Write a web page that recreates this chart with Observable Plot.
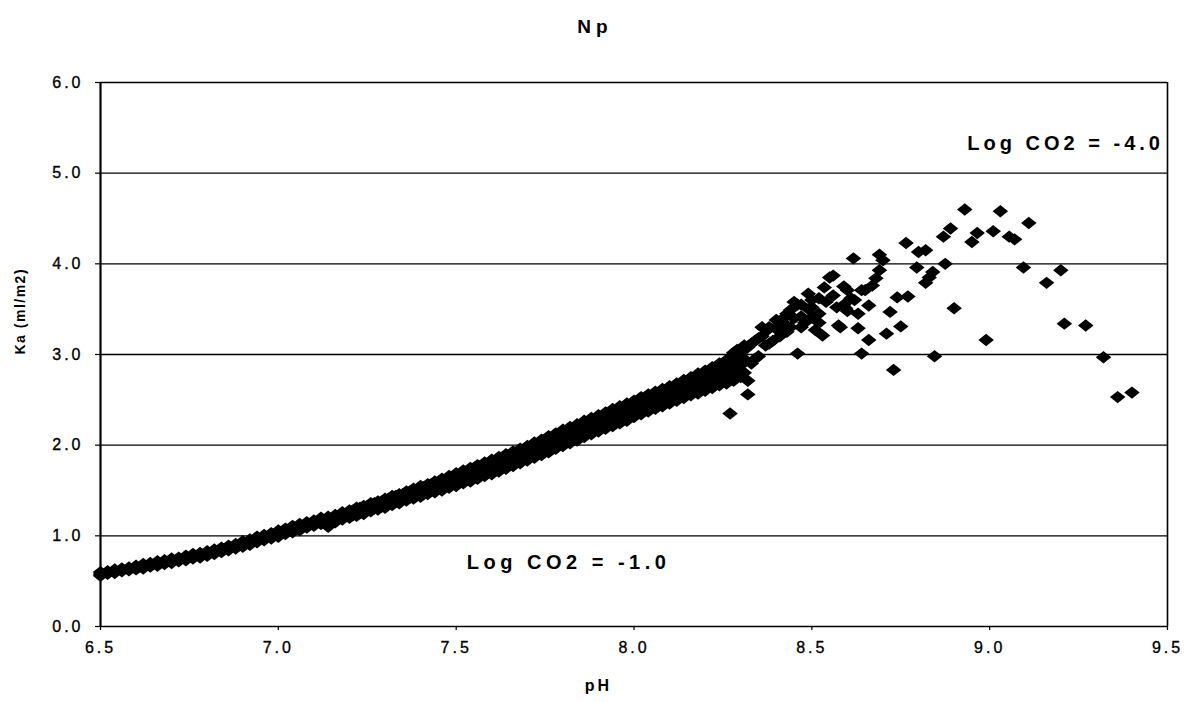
<!DOCTYPE html>
<html>
<head>
<meta charset="utf-8">
<script src="https://cdn.jsdelivr.net/npm/d3@7"></script>
<script src="https://cdn.jsdelivr.net/npm/@observablehq/plot@0.6"></script>
<style>
  html, body { margin: 0; padding: 0; background: #fff; }
  #chart svg { display: block; }
</style>
</head>
<body>
<div id="chart"></div>
<script>
// ---- data ----
const bandPH = [6.50,6.52,6.54,6.56,6.58,6.60,6.62,6.64,6.66,6.68,6.70,6.72,6.74,6.76,6.78,6.80,6.82,6.84,6.86,6.88,
  6.90,6.92,6.94,6.96,6.98,7.00,7.02,7.04,7.06,7.08,7.10,7.12,7.14,7.16,7.18,7.20,7.22,7.24,7.26,7.28,
  7.30,7.32,7.34,7.36,7.38,7.40,7.42,7.44,7.46,7.48,7.50,7.52,7.54,7.56,7.58,7.60,7.62,7.64,7.66,7.68,
  7.70,7.72,7.74,7.76,7.78,7.80,7.82,7.84,7.86,7.88,7.90,7.92,7.94,7.96,7.98,8.00,8.02,8.04,8.06,8.08,
  8.10,8.12,8.14,8.16,8.18,8.20,8.22,8.24,8.26,8.28,8.30];
const bandMid = [0.58,0.60,0.61,0.62,0.64,0.65,0.66,0.68,0.69,0.71,0.72,0.74,0.76,0.77,0.79,0.81,0.83,0.85,0.87,0.89,
  0.92,0.94,0.96,0.98,1.01,1.03,1.06,1.08,1.10,1.12,1.15,1.17,1.18,1.20,1.22,1.24,1.27,1.29,1.32,1.34,
  1.37,1.39,1.42,1.44,1.47,1.49,1.52,1.54,1.57,1.60,1.62,1.65,1.68,1.71,1.73,1.76,1.79,1.82,1.85,1.88,
  1.91,1.94,1.98,2.01,2.05,2.08,2.11,2.14,2.18,2.21,2.24,2.27,2.30,2.33,2.37,2.40,2.43,2.46,2.49,2.53,
  2.56,2.59,2.62,2.65,2.68,2.71,2.74,2.78,2.81,2.85,2.88];
const bandLow = [0.56,0.58,0.59,0.61,0.62,0.63,0.64,0.66,0.67,0.69,0.70,0.72,0.73,0.75,0.76,0.78,0.80,0.82,0.84,0.86,
  0.88,0.90,0.93,0.95,0.97,0.99,1.02,1.04,1.06,1.09,1.11,1.13,1.10,1.15,1.18,1.20,1.22,1.24,1.27,1.29,
  1.31,1.34,1.36,1.39,1.41,1.43,1.46,1.48,1.50,1.53,1.55,1.58,1.60,1.63,1.66,1.68,1.71,1.74,1.77,1.80,
  1.83,1.86,1.89,1.92,1.96,1.99,2.02,2.05,2.09,2.12,2.15,2.18,2.21,2.24,2.27,2.31,2.34,2.37,2.40,2.43,
  2.46,2.49,2.52,2.55,2.57,2.60,2.63,2.66,2.68,2.71,2.75];
const bandHigh = [0.60,0.61,0.63,0.64,0.65,0.67,0.69,0.70,0.72,0.73,0.75,0.76,0.78,0.80,0.81,0.83,0.85,0.87,0.89,0.91,
  0.94,0.96,0.99,1.01,1.03,1.06,1.08,1.11,1.13,1.15,1.17,1.20,1.21,1.23,1.26,1.28,1.31,1.33,1.36,1.38,
  1.41,1.44,1.46,1.49,1.52,1.55,1.57,1.60,1.63,1.66,1.69,1.72,1.75,1.78,1.81,1.84,1.87,1.90,1.93,1.96,
  1.99,2.03,2.06,2.10,2.13,2.17,2.20,2.23,2.27,2.30,2.33,2.36,2.40,2.43,2.46,2.49,2.53,2.56,2.59,2.62,
  2.65,2.68,2.72,2.75,2.79,2.82,2.86,2.90,2.94,2.98,3.02];
// in-between rows of the thick part of the band
const band2PH = [7.21,7.23,7.25,7.27,7.29,7.31,7.33,7.35,7.37,7.39,7.41,7.43,7.45,7.47,7.49,7.51,7.53,7.55,7.57,7.59,
  7.61,7.63,7.65,7.67,7.69,7.71,7.73,7.75,7.77,7.79,7.81,7.83,7.85,7.87,7.89,7.91,7.93,7.95,7.97,7.99,
  8.01,8.03,8.05,8.07,8.09,8.11,8.13,8.15,8.17,8.19,8.21,8.23,8.25,8.27,8.29];
const band2Low = [1.23,1.25,1.28,1.30,1.32,1.35,1.37,1.40,1.42,1.45,1.47,1.50,1.52,1.55,1.57,1.59,1.62,1.65,1.67,1.70,
  1.72,1.76,1.78,1.82,1.84,1.88,1.91,1.95,1.98,2.02,2.04,2.08,2.11,2.15,2.17,2.21,2.23,2.27,2.30,2.34,
  2.36,2.40,2.42,2.46,2.49,2.53,2.55,2.59,2.61,2.65,2.67,2.71,2.74,2.78,2.80];
const band2High = [1.28,1.31,1.33,1.36,1.38,1.41,1.44,1.46,1.49,1.51,1.54,1.57,1.59,1.62,1.65,1.68,1.71,1.74,1.77,1.79,
  1.83,1.85,1.89,1.91,1.95,1.97,2.01,2.04,2.08,2.11,2.15,2.17,2.21,2.24,2.28,2.30,2.34,2.36,2.40,2.43,
  2.47,2.49,2.53,2.56,2.60,2.62,2.66,2.68,2.72,2.75,2.78,2.81,2.85,2.88,2.92];
const tailPH = [8.27,8.32,8.32,8.29,8.31,8.33,8.35,8.375,8.41,8.42,8.44,8.46,8.47,8.49,8.50,8.51,8.52,8.53,8.535,8.55,
  8.56,8.57,8.575,8.58,8.595,8.60,8.61,8.617,8.63,8.64,8.64,8.65,8.66,8.66,8.67,8.68,8.69,8.69,8.70,8.71,
  8.72,8.73,8.74,8.75,8.765,8.77,8.795,8.80,8.82,8.82,8.83,8.84,8.845,8.87,8.875,8.89,8.90,8.93,8.95,8.965,
  8.99,9.01,9.03,9.055,9.07,9.095,9.11,9.16,9.20,9.21,9.27,9.32,9.36,9.40,
  8.30,8.31,8.32,8.33,8.34,8.35,8.36,8.37,8.38,8.39,8.40,8.41,8.42,8.43,8.44,8.45,8.46,8.47,8.48,8.49,
  8.50,8.52,8.54,8.56,8.59,8.59,8.60,8.62,8.63,
  8.34,8.36,8.38,8.40,8.43,8.45,8.47,8.50,8.52,8.31,8.29,8.28];
const tailKa = [2.35,2.56,2.71,3.05,2.95,3.12,3.18,3.27,3.34,3.40,3.49,3.01,3.55,3.67,3.41,3.27,3.45,3.21,3.74,3.85,
  3.87,3.52,3.32,3.30,3.51,3.71,3.62,4.06,3.29,3.01,3.71,3.71,3.54,3.16,3.76,3.84,3.93,4.10,4.04,3.23,
  3.47,2.83,3.63,3.31,4.23,3.64,3.96,4.13,4.15,3.79,3.85,3.91,2.98,4.30,4.00,4.39,3.51,4.60,4.24,4.34,
  3.16,4.36,4.58,4.30,4.27,3.96,4.45,3.79,3.93,3.34,3.32,2.97,2.53,2.58,
  3.00,2.80,3.08,2.90,3.15,2.98,3.20,3.10,3.30,3.15,3.28,3.20,3.35,3.45,3.30,3.40,3.55,3.42,3.35,3.50,
  3.60,3.62,3.58,3.65,3.75,3.55,3.48,3.60,3.45,
  2.95,3.30,3.12,3.38,3.25,3.58,3.30,3.52,3.35,3.10,2.90,3.02];
const xTicks = [6.5, 7.0, 7.5, 8.0, 8.5, 9.0, 9.5];
const yTicks = [0, 1, 2, 3, 4, 5, 6];
const titleText = "Np";
const xLabel = "pH";
const yLabel = "Ka (ml/m2)";
const notes = ["Log CO2 = -4.0", "Log CO2 = -1.0"];

// ---- build table ----
const points = [];
bandPH.forEach((p, i) => {
  points.push({pH: p, ka: bandLow[i]});
  points.push({pH: p, ka: bandMid[i]});
  points.push({pH: p, ka: bandHigh[i]});
});
band2PH.forEach((p, i) => {
  points.push({pH: p, ka: band2Low[i]});
  points.push({pH: p, ka: band2High[i]});
});
tailPH.forEach((p, i) => points.push({pH: p, ka: tailKa[i]}));

// wide diamond symbol (spreadsheet-style marker)
const wideDiamond = {
  draw(ctx, size) {
    const r = Math.sqrt(size / Math.PI);
    const w = r * 1.25, h = r;
    ctx.moveTo(0, -h); ctx.lineTo(w, 0); ctx.lineTo(0, h); ctx.lineTo(-w, 0); ctx.closePath();
  }
};

const font = "Arial, 'Liberation Sans', sans-serif";
const fmt = d => d.toFixed(1);

const chart = Plot.plot({
  width: 1185,
  height: 702,
  marginLeft: 100,
  marginRight: 18,
  marginTop: 82,
  marginBottom: 76,
  style: {fontFamily: font, background: "#fff", color: "#000"},
  x: {domain: [6.5, 9.5], label: null, axis: null},
  y: {domain: [0, 6], label: null, axis: null},
  marks: [
    Plot.ruleY(yTicks.filter(d => d > 0), {stroke: "#000", strokeWidth: 1.3}),
    Plot.ruleX([9.5], {stroke: "#000", strokeWidth: 1.6}),
    Plot.dot(points, {x: "pH", y: "ka", symbol: wideDiamond, r: 6.2, fill: "#000", stroke: null}),
    Plot.ruleY([0], {stroke: "#000", strokeWidth: 1.6}),
    Plot.ruleX([6.5], {stroke: "#000", strokeWidth: 2.2}),
    // tick marks only (labels drawn below as text)
    Plot.axisX({ticks: xTicks, tickSize: 4, tickFormat: () => "", label: null, stroke: "#000", strokeWidth: 1.2}),
    Plot.axisY({ticks: yTicks, tickSize: 5, tickFormat: () => "", label: null, stroke: "#000", strokeWidth: 1.2}),
    // tick labels
    Plot.text(xTicks, {x: d => d, text: fmt, frameAnchor: "bottom", dy: 26, fontSize: 16, fill: "#000", stroke: "#000", strokeWidth: 0.35}),
    Plot.text(yTicks, {y: d => d, text: fmt, frameAnchor: "left", dx: -17, textAnchor: "end", fontSize: 16, fill: "#000", stroke: "#000", strokeWidth: 0.35}),
    Plot.text([notes[0]], {x: 9.49, y: 5.33, textAnchor: "end", fontSize: 20, fontWeight: "bold", fill: "#000"}),
    Plot.text([notes[1]], {x: 7.53, y: 0.71, textAnchor: "start", fontSize: 20, fontWeight: "bold", fill: "#000"}),
    Plot.text([titleText], {x: 7.89, frameAnchor: "top", dy: -63, fontSize: 19, fontWeight: "bold", fill: "#000"}),
    Plot.text([xLabel], {x: 7.90, frameAnchor: "bottom", dy: 64, fontSize: 16, fontWeight: "bold", fill: "#000"}),
    Plot.text([yLabel], {frameAnchor: "left", dx: -80, rotate: -90, fontSize: 14, fontWeight: "bold", fill: "#000"})
  ]
});

document.getElementById("chart").appendChild(chart);

// typography like the original (letter-spaced text)
const tickTexts = new Set([...xTicks, ...yTicks].map(fmt));
d3.select(chart).selectAll("text").each(function() {
  const t = this.textContent;
  if (tickTexts.has(t)) this.setAttribute("letter-spacing", "3px");
  else if (t === notes[0]) this.setAttribute("letter-spacing", "4px");
  else if (t === notes[1]) this.setAttribute("letter-spacing", "4.5px");
  else if (t === titleText) this.setAttribute("letter-spacing", "5px");
  else if (t === xLabel) this.setAttribute("letter-spacing", "3px");
  else if (t === yLabel) this.setAttribute("letter-spacing", "1.5px");
});
</script>
</body>
</html>
